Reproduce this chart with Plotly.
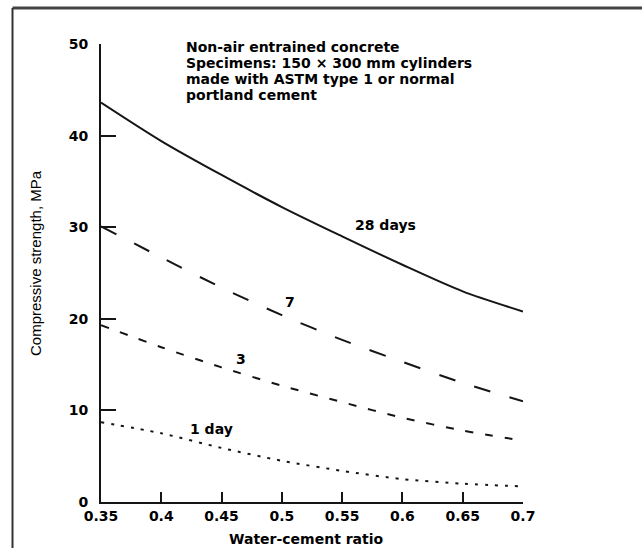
import plotly.graph_objects as go

wc_ratio = [0.35, 0.40, 0.45, 0.50, 0.55, 0.60, 0.65, 0.70]
strength_28d = [43.6, 39.4, 35.7, 32.2, 29.0, 25.9, 23.0, 20.8]
strength_7d = [30.1, 26.7, 23.4, 20.4, 17.7, 15.3, 13.0, 11.0]
strength_3d = [19.3, 16.9, 14.7, 12.7, 10.9, 9.2, 7.8, 6.7]
strength_1d = [8.7, 7.5, 5.9, 4.5, 3.4, 2.5, 2.0, 1.7]

x_ticks = [0.35, 0.40, 0.45, 0.50, 0.55, 0.60, 0.65, 0.70]
x_tick_labels = ["0.35", "0.4", "0.45", "0.5", "0.55", "0.6", "0.65", "0.7"]
y_ticks = [0, 10, 20, 30, 40, 50]

curve_labels = [("28 days", 0.559, 30.2, "left"), ("7", 0.5068, 21.8, "center"),
                ("3", 0.466, 15.6, "center"), ("1 day", 0.422, 8.0, "left")]
note_lines = ["Non-air entrained concrete",
              "Specimens: 150 × 300 mm cylinders",
              "made with ASTM type 1 or normal",
              "portland cement"]

LINE = "#151515"
fig = go.Figure()
series = [(strength_28d, "solid"), (strength_7d, "17px,20px"),
          (strength_3d, "8px,12px"), (strength_1d, "3px,7px")]
for ys, dash in series:
    fig.add_trace(go.Scatter(x=wc_ratio, y=ys, mode="lines",
                             line=dict(color=LINE, width=2, dash=dash, shape="spline", smoothing=0.8),
                             showlegend=False, hoverinfo="skip"))

TF = "DejaVu Sans"
for txt, x, y, anc in curve_labels:
    fig.add_annotation(x=x, y=y, xref="x", yref="y", text=txt, showarrow=False,
                       xanchor=anc, yanchor="middle",
                       font=dict(family=TF, size=14, color="black", weight="bold"))

L, R, T, B = 101, 119, 44, 46
W, H = 642, 548
PW, PH = W - L - R, H - T - B
def px(xp):
    return (xp - L) / PW
def py(yp):
    return (H - B - yp) / PH

for i, line in enumerate(note_lines):
    fig.add_annotation(x=px(184), y=py(47 + 16 * i), xref="paper", yref="paper", text=line,
                       showarrow=False, xanchor="left", yanchor="middle",
                       font=dict(family=TF, size=14, color="black", weight="bold"))

fig.add_annotation(x=px(306), y=py(539), xref="paper", yref="paper", text="Water-cement ratio",
                   showarrow=False, xanchor="center", yanchor="middle",
                   font=dict(family=TF, size=14, color="black", weight="bold"))
fig.add_annotation(x=px(35), y=py(263), xref="paper", yref="paper", text="Compressive strength, MPa",
                   showarrow=False, textangle=-90, xanchor="center", yanchor="middle",
                   font=dict(family="Liberation Sans", size=15, color="black"))

fig.add_shape(type="line", xref="paper", yref="paper", x0=px(12.5), y0=py(8), x1=px(642), y1=py(8),
              line=dict(color="#444", width=3))
fig.add_shape(type="line", xref="paper", yref="paper", x0=px(12.5), y0=py(8), x1=px(12.5), y1=py(548),
              line=dict(color="#333", width=2))

fig.update_xaxes(range=[0.35, 0.70], tickvals=x_ticks, ticktext=x_tick_labels,
                 showline=True, linecolor=LINE, linewidth=2, ticks="inside", ticklen=10,
                 tickwidth=2, tickcolor=LINE, showgrid=False, zeroline=False,
                 tickfont=dict(family=TF, size=14, color="black", weight="bold"))
fig.update_yaxes(range=[0, 50], tickvals=y_ticks, showline=True, linecolor=LINE, linewidth=2,
                 ticks="inside", ticklen=15, tickwidth=2, tickcolor=LINE, showgrid=False,
                 zeroline=False, ticklabelstandoff=8,
                 tickfont=dict(family=TF, size=14, color="black", weight="bold"))

fig.update_layout(width=W, height=H, margin=dict(l=L, r=R, t=T, b=B),
                  paper_bgcolor="white", plot_bgcolor="white")
fig.write_html("out.html", config={"displayModeBar": False},
               post_script="document.body.style.margin='0px';")
